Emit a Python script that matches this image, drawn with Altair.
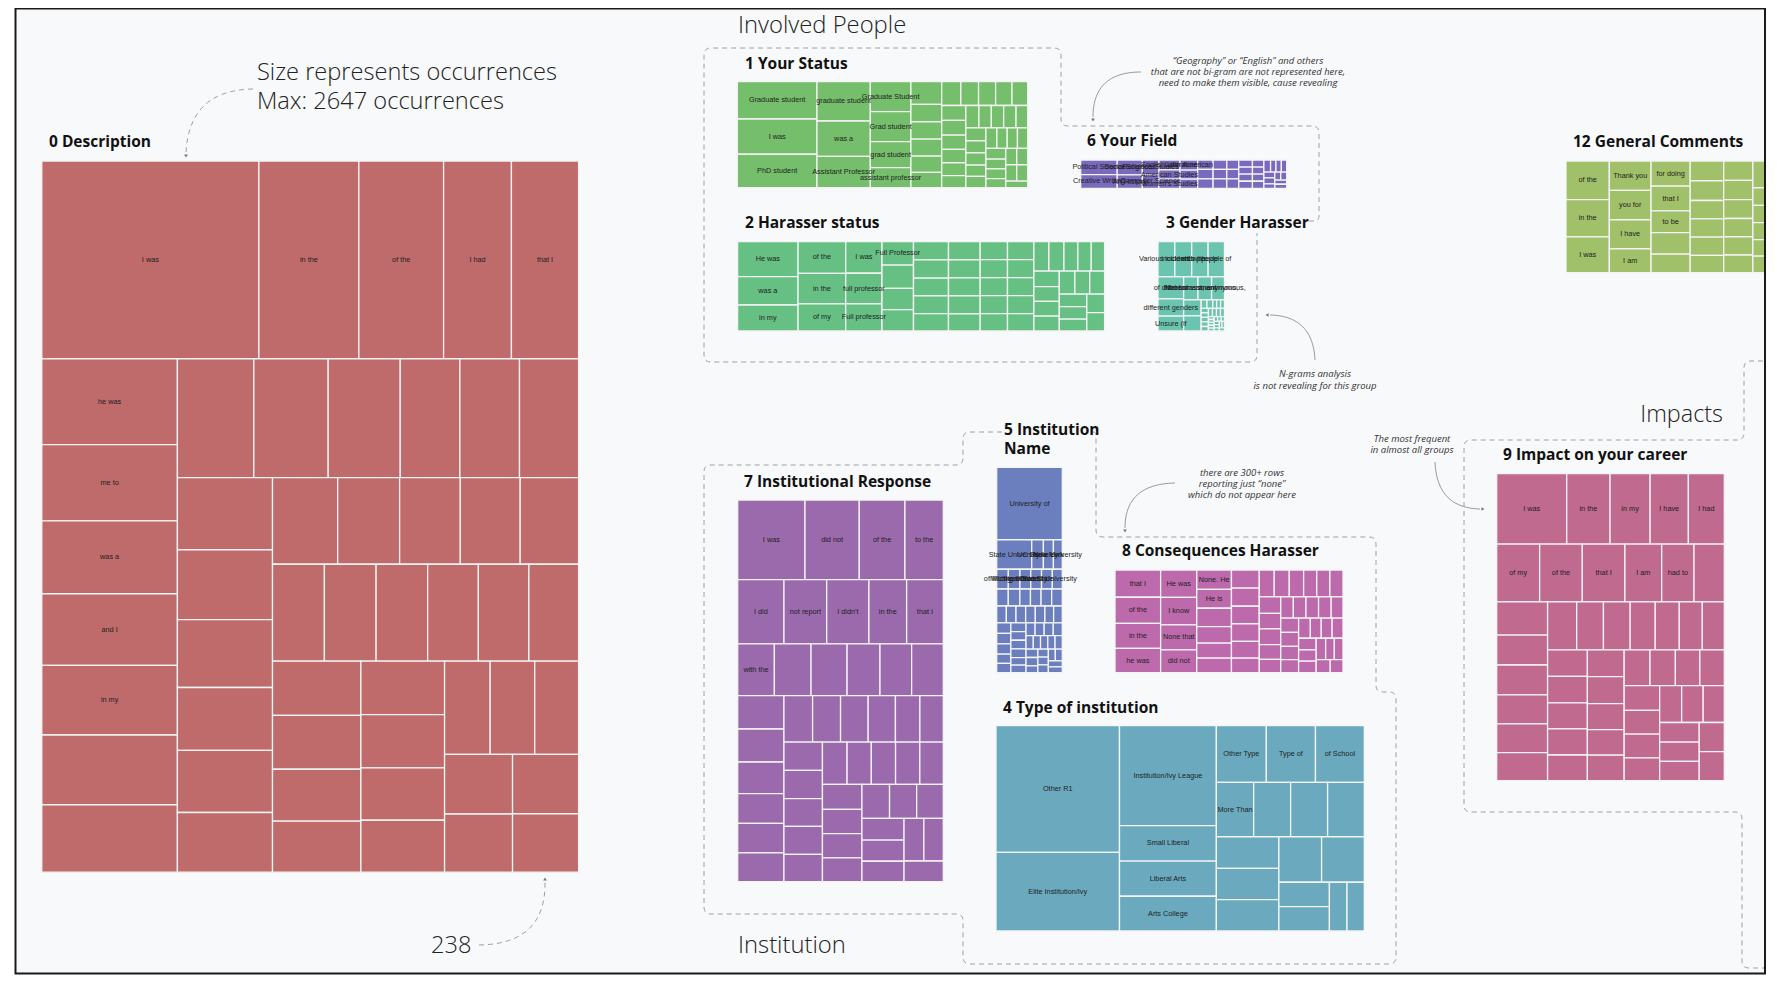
import math
import altair as alt
import pandas as pd

# ---------------- data: bi-gram occurrences per survey question ----------------
desc_values = [2647, 1219, 1033, 827, 819,
               718, 637, 610, 598, 583, 583, 564,
               560, 545, 528, 437, 437, 433,
               423, 410, 398, 369, 364, 350,
               348, 331, 324, 320, 312,
               310, 309, 308, 303, 302, 297,
               296, 293, 283, 278,
               276, 275, 270, 268,
               262, 256, 252,
               250, 244,
               242, 238]
desc_labels = ["I was", "in the", "of the", "I had", "that I", "he was", "me to", "was a", "and I", "in my"]

status_values = [183, 173, 164, 129, 116, 103, 75, 75, 65, 50,
                 43, 33, 33, 32, 31, 29, 28, 26, 25, 24, 23,
                 22, 22, 21, 20, 19, 18, 18, 17, 17, 17, 16,
                 16, 15, 15, 14, 14, 14, 13, 13, 13, 13, 12, 12, 11,
                 11, 11, 11, 11, 9]
status_labels = ["Graduate student", "I was", "PhD student", "graduate student", "was a",
                 "Assistant Professor", "Graduate Student", "Grad student", "grad student",
                 "assistant professor"]

field_values = [33, 31, 23, 21, 15, 14, 13, 12, 12, 11, 10, 10, 9, 9, 9, 8, 8, 8, 7, 7,
                7, 6, 6, 6, 6, 5, 5, 5, 5, 5, 4, 4, 4, 4, 4, 3, 3, 3, 3, 3]
field_labels = ["Political Science", "Creative Writing", "Social Sciences", "Art History",
                "Religious Studies", "Computer Science", "English Literature", "American Studies",
                "Women's Studies", "Latin American"]

harasser_values = [129, 105, 96, 92, 89, 79, 70, 68, 60,
                   45, 45, 41, 41, 39, 39, 38, 38, 37, 35, 35, 35, 35, 33,
                   30, 30, 30, 30, 29, 29, 29, 29, 29, 28,
                   27, 27, 25, 24, 24, 24, 23, 23, 23, 22, 21, 21, 21, 21, 20, 20, 20]
harasser_labels = ["He was", "was a", "in my", "of the", "in the", "of my", "I was",
                   "full professor", "Full professor", "Full Professor"]

gender_values = [36, 36, 35, 35, 34, 27, 23, 20, 19, 18, 17, 16,
                 3, 3, 2, 2, 2, 2, 2, 2, 2, 2, 2, 2, 2, 2,
                 1, 1, 1, 1, 1, 1, 1, 1, 1, 1, 1, 1, 1, 1]
gender_labels = ["Various incidents", "incidents with", "with people", "people of", "of different",
                 "different genders", "Unsure (if", "Not harassment", "harassment, anonymous,",
                 "anonymous,"]

general_values = [104, 100, 96, 76, 76, 75, 62, 61, 60, 53, 52, 45,
                  41, 41, 38, 38, 38, 36, 35, 35, 34, 33, 33, 32,
                  31, 31, 30, 30, 29, 29, 28, 28, 27, 27, 26, 26, 25, 25, 24, 24,
                  23, 23, 22, 22, 21, 21, 20, 20, 19]
general_labels = ["of the", "in the", "I was", "Thank you", "you for", "I have", "I am",
                  "for doing", "that I", "to be"]

institution_values = [290, 63, 21, 18, 16, 14, 14, 13, 13, 13, 12, 12, 12, 11, 11, 11, 11,
                      10, 10, 10, 10, 10, 9, 9, 9, 9, 9, 8, 8, 8, 8, 8, 8,
                      7, 7, 7, 7, 7, 7, 6, 6, 6, 6, 6, 6, 6, 5, 5, 5, 5, 5, 5, 5, 5]
institution_labels = ["University of", "State University", "UC Berkeley", "New York",
                      "Yale University", "of Michigan", "Michigan State", "the University",
                      "Ohio State", "Harvard University"]

consequences_values = [74, 71, 68, 66, 59, 59, 54, 49, 40, 39, 38, 34, 31, 30,
                       30, 30, 29, 29, 28, 24, 24, 24, 23, 21, 21, 21, 21, 20, 20, 19, 17,
                       16, 16, 16, 16, 15, 15, 15, 14, 14, 14, 13, 13, 13, 12, 12, 12, 12,
                       11, 11, 11, 10]
consequences_labels = ["that I", "of the", "in the", "he was", "He was", "I know", "None that",
                       "did not", "None. He", "He is"]

type_values = [965, 600, 598, 212, 210, 208, 175, 172, 171, 125, 124, 124, 123,
               122, 121, 121, 120, 120, 76, 76, 53, 52]
type_labels = ["Other R1", "Elite Institution/Ivy", "Institution/Ivy League", "Small Liberal",
               "Liberal Arts", "Arts College", "Other Type", "Type of", "of School", "More Than"]

impact_values = [304, 188, 174, 166, 156, 153, 152, 152, 131, 115, 108,
                 104, 94, 94, 91, 90, 88, 86, 79, 79, 74, 71, 68, 65,
                 65, 65, 64, 64, 63, 61, 61, 59, 58, 58, 57, 56, 54, 54,
                 54, 52, 52, 50, 50, 49, 48, 48, 47, 47, 45, 45]
impact_labels = ["I was", "in the", "in my", "I have", "I had", "of my", "of the", "that I",
                 "I am", "had to"]

response_values = [330, 266, 224, 188, 183, 169, 167, 149, 145,
                   117, 117, 115, 105, 101, 101, 95, 94, 90, 85, 84, 82,
                   82, 80, 79, 78, 70, 67, 67, 67, 66, 66, 65,
                   64, 63, 63, 63, 61, 61, 59, 59, 58, 58, 57, 56, 56, 55, 53, 52, 51, 50]
response_labels = ["I was", "did not", "of the", "to the", "I did", "not report", "I didn't",
                   "in the", "that I", "with the"]

# ---------------- layout (panel boxes in page pixels, colours, strips) ----------------
PANELS = [
    # values, labels, box, colour, strip sizes
    (desc_values, desc_labels, (41.8, 161, 578.6, 872.2), "#BF6B6B", [5, 7, 6, 6, 5, 6, 4, 4, 3, 2, 1, 1]),
    (status_values, status_labels, (737.3, 81.7, 1027.7, 187.7), "#75BE6B", [3, 3, 4, 6, 5, 6, 5, 5, 4, 4, 2, 2, 1]),
    (field_values, field_labels, (1080.7, 160, 1286.7, 188.3), "#7A6ABD", [2, 2]),
    (harasser_values, harasser_labels, (737.6, 241.7, 1104.6, 331), "#67C083", [3, 3, 3, 4, 5, 5, 5, 5, 5, 4, 3, 3, 1, 1]),
    (gender_values, gender_labels, (1158, 241.7, 1224.5, 331), "#6BC4AF", [4, 3]),
    (general_values, general_labels, (1566, 161, 1844, 272.7), "#A1C06A", [3, 4, 5, 6, 6]),
    (institution_values, institution_labels, (996.7, 467.3, 1062.3, 672.7), "#6B7FBE", [1, 4]),
    (consequences_values, consequences_labels, (1115, 570, 1343, 672.7), "#BD6AAD", [4, 4, 6, 6, 6, 5, 5]),
    (type_values, type_labels, (996, 725.7, 1364.3, 931), "#6BAABE", [2, 4, 3, 4, 3, 2, 2, 2]),
    (impact_values, impact_labels, (1496.7, 473.7, 1724.3, 780.7), "#C06A8F", [5, 6, 6, 7, 5, 5, 4, 4, 3, 3, 1, 1]),
    (response_values, response_labels, (737.7, 500, 943.3, 881.7), "#9B6AAD", [4, 5, 6, 6, 6, 5, 5, 4, 3, 3, 2, 1]),
]

PHI = (1 + 5 ** 0.5) / 2


def treemap(values, box, strips=None):
    """Squarified treemap (d3 style); strip sizes may be given for the first strips."""
    x0, y0, x1, y1 = box
    n = len(values)
    total = float(sum(values))
    out = [None] * n
    i0, r = 0, 0
    while i0 < n:
        dx, dy = x1 - x0, y1 - y0
        if strips is not None and r < len(strips):
            i1 = min(n, i0 + strips[r])
            s = float(sum(values[i0:i1]))
        else:
            i1 = i0 + 1
            s = float(values[i0])
            mn = mx = s
            alpha = max(dy / dx, dx / dy) / (total * PHI)
            beta = s * s * alpha
            best = max(mx / beta, beta / mn)
            while i1 < n:
                v = values[i1]
                s2 = s + v
                mn2, mx2 = min(mn, v), max(mx, v)
                beta = s2 * s2 * alpha
                ratio = max(mx2 / beta, beta / mn2)
                if ratio > best:
                    break
                s, mn, mx, best = s2, mn2, mx2, ratio
                i1 += 1
        frac = s / total if total > 0 else 1.0
        if dx < dy:
            ny = y0 + dy * frac
            cx = x0
            for j in range(i0, i1):
                w = dx * values[j] / s
                out[j] = (cx, y0, cx + w, ny)
                cx += w
            y0 = ny
        else:
            nx = x0 + dx * frac
            cy = y0
            for j in range(i0, i1):
                h = dy * values[j] / s
                out[j] = (x0, cy, nx, cy + h)
                cy += h
            x0 = nx
        total -= s
        i0 = i1
        r += 1
    return out


cells, labels = [], []
for pid, (vals, labs, box, col, strips) in enumerate(PANELS):
    rects = treemap(vals, box, strips)
    for k, (a, b, c, d) in enumerate(rects):
        cells.append({"x": a, "x2": c, "y": b, "y2": d, "panel": pid, "color": col, "n": vals[k]})
        if k < len(labs):
            labels.append({"x": (a + c) / 2, "y": (b + d) / 2, "text": labs[k]})
cells_df = pd.DataFrame(cells)
labels_df = pd.DataFrame(labels)

XS = alt.Scale(domain=[8, 1769], nice=False, zero=False)
YS = alt.Scale(domain=[8, 981], nice=False, zero=False, reverse=True)


def X(f="x"):
    return alt.X(f"{f}:Q", scale=XS, axis=None)


def Y(f="y"):
    return alt.Y(f"{f}:Q", scale=YS, axis=None)


# ---------------- decorations: dashed group outlines, arrows ----------------
def rounded(pts, r=7, steps=6):
    out = [pts[0]]
    for i in range(1, len(pts) - 1):
        (xa, ya), (xb, yb), (xc, yc) = pts[i - 1], pts[i], pts[i + 1]
        d1 = math.hypot(xb - xa, yb - ya)
        d2 = math.hypot(xc - xb, yc - yb)
        rr = min(r, d1 / 2, d2 / 2)
        ax, ay = xb + (xa - xb) * rr / d1, yb + (ya - yb) * rr / d1
        bx, by = xb + (xc - xb) * rr / d2, yb + (yc - yb) * rr / d2
        for k in range(steps + 1):
            t = k / steps
            out.append(((1 - t) ** 2 * ax + 2 * (1 - t) * t * xb + t * t * bx,
                        (1 - t) ** 2 * ay + 2 * (1 - t) * t * yb + t * t * by))
    out.append(pts[-1])
    return out


def curve(p0, c, p1, steps=24):
    return [((1 - t) ** 2 * p0[0] + 2 * (1 - t) * t * c[0] + t * t * p1[0],
             (1 - t) ** 2 * p0[1] + 2 * (1 - t) * t * c[1] + t * t * p1[1])
            for t in [k / steps for k in range(steps + 1)]]


outlines = [
    [(1309, 221), (1319, 221), (1319, 126), (1061, 126), (1061, 48), (704, 48), (704, 362),
     (1257, 362), (1257, 233)],
    [(1002, 432), (963, 432), (963, 465), (704, 465), (704, 914), (963, 914), (963, 964),
     (1396, 964), (1396, 692), (1376, 692), (1376, 537), (1096, 537), (1096, 432), (1090, 432)],
    [(1772, 361), (1744, 361), (1744, 440), (1464, 440), (1464, 812), (1742, 812), (1742, 968),
     (1772, 968)],
]
dashed_arrows = [
    ((253, 89), (189, 90), (186, 153)),
    ((479, 945), (546, 944), (545, 882)),
]
solid_arrows = [
    ((1141, 72), (1093, 72), (1093, 117)),
    ((1315, 360), (1313, 316), (1270, 315)),
    ((1175, 483), (1125, 484), (1125, 528)),
    ((1435, 462), (1437, 508), (1480, 509)),
]

dash_rows, solid_rows = [], []
sid = 0
for pts in outlines:
    for i, (a, b) in enumerate(rounded(pts)):
        dash_rows.append({"x": a, "y": b, "seg": sid, "o": i})
    sid += 1
for p0, c, p1 in dashed_arrows:
    for i, (a, b) in enumerate(curve(p0, c, p1)):
        dash_rows.append({"x": a, "y": b, "seg": sid, "o": i})
    sid += 1
for p0, c, p1 in solid_arrows:
    for i, (a, b) in enumerate(curve(p0, c, p1)):
        solid_rows.append({"x": a, "y": b, "seg": sid, "o": i})
    sid += 1

heads = pd.DataFrame([
    {"x": 186, "y": 156, "shape": "triangle-down"},
    {"x": 545, "y": 879, "shape": "triangle-up"},
    {"x": 1093, "y": 120, "shape": "triangle-down"},
    {"x": 1267, "y": 315, "shape": "triangle-left"},
    {"x": 1125, "y": 531, "shape": "triangle-down"},
    {"x": 1483, "y": 509, "shape": "triangle-right"},
])

titles = pd.DataFrame([
    {"x": 49, "y": 147, "text": "0 Description"},
    {"x": 745, "y": 69, "text": "1 Your Status"},
    {"x": 1087, "y": 146, "text": "6 Your Field"},
    {"x": 745, "y": 228, "text": "2 Harasser status"},
    {"x": 1166, "y": 228, "text": "3 Gender Harasser"},
    {"x": 1573, "y": 147, "text": "12 General Comments"},
    {"x": 1004, "y": 435, "text": "5 Institution"},
    {"x": 1004, "y": 454, "text": "Name"},
    {"x": 744, "y": 487, "text": "7 Institutional Response"},
    {"x": 1122, "y": 556, "text": "8 Consequences Harasser"},
    {"x": 1003, "y": 713, "text": "4 Type of institution"},
    {"x": 1503, "y": 460, "text": "9 Impact on your career"},
])
big_notes = pd.DataFrame([
    {"x": 257, "y": 80, "text": "Size represents occurrences"},
    {"x": 257, "y": 109, "text": "Max: 2647 occurrences"},
    {"x": 431, "y": 953, "text": "238"},
])
sections = pd.DataFrame([
    {"x": 738, "y": 33, "text": "Involved People"},
    {"x": 738, "y": 953, "text": "Institution"},
])
big_right = pd.DataFrame([{"x": 1723, "y": 422, "text": "Impacts"}])
notes = pd.DataFrame([
    {"x": 1248, "y": 63.5, "text": "“Geography” or “English” and others"},
    {"x": 1248, "y": 74.5, "text": "that are not bi-gram are not represented here,"},
    {"x": 1248, "y": 85.5, "text": "need to make them visible, cause revealing"},
    {"x": 1315, "y": 377, "text": "N-grams analysis"},
    {"x": 1315, "y": 389, "text": "is not revealing for this group"},
    {"x": 1242, "y": 476, "text": "there are 300+ rows"},
    {"x": 1242, "y": 487, "text": "reporting just “none”"},
    {"x": 1242, "y": 498, "text": "which do not appear here"},
    {"x": 1412, "y": 442, "text": "The most frequent"},
    {"x": 1412, "y": 452.5, "text": "in almost all groups"},
])

frame = pd.DataFrame([{"x": 15.5, "x2": 1765, "y": 8.5, "y2": 973.5}])
cover = pd.DataFrame([{"x": 1766, "x2": 1790, "y": 0, "y2": 990}])

layers = [
    alt.Chart(frame).mark_rect(fill="#F8F9FB", stroke=None).encode(x=X(), x2="x2", y=Y(), y2="y2"),
    alt.Chart(cells_df).mark_rect(stroke="#F4F4F4", strokeWidth=1.3).encode(
        x=X(), x2="x2", y=Y(), y2="y2",
        color=alt.Color("color:N", scale=None),
        tooltip=["n:Q"]),
    alt.Chart(labels_df).mark_text(font="Liberation Sans", fontSize=7.3, color="#1E1E1E",
                                   align="center", baseline="middle").encode(x=X(), y=Y(), text="text:N"),
    alt.Chart(pd.DataFrame(dash_rows)).mark_line(color="#A0A0A0", strokeWidth=1, strokeDash=[5, 4]).encode(
        x=X(), y=Y(), detail="seg:N", order="o:Q"),
    alt.Chart(pd.DataFrame(solid_rows)).mark_line(color="#9A9A9A", strokeWidth=1).encode(
        x=X(), y=Y(), detail="seg:N", order="o:Q"),
    alt.Chart(heads).mark_point(filled=True, size=14, color="#777777", opacity=1).encode(
        x=X(), y=Y(), shape=alt.Shape("shape:N", scale=None)),
    alt.Chart(titles).mark_text(font="Open Sans", fontSize=15.5, fontWeight="bold", color="#111111",
                                align="left", baseline="alphabetic").encode(x=X(), y=Y(), text="text:N"),
    alt.Chart(big_notes).mark_text(font="Open Sans", fontSize=23.6, fontWeight=300, color="#222222",
                                   align="left", baseline="alphabetic").encode(x=X(), y=Y(), text="text:N"),
    alt.Chart(sections).mark_text(font="Open Sans", fontSize=23.8, fontWeight=300, color="#222222",
                                  align="left", baseline="alphabetic").encode(x=X(), y=Y(), text="text:N"),
    alt.Chart(big_right).mark_text(font="Open Sans", fontSize=23.4, fontWeight=300, color="#222222",
                                   align="right", baseline="alphabetic").encode(x=X(), y=Y(), text="text:N"),
    alt.Chart(notes).mark_text(font="Open Sans", fontSize=9.5, fontStyle="italic", color="#333333",
                               align="center", baseline="alphabetic").encode(x=X(), y=Y(), text="text:N"),
    alt.Chart(cover).mark_rect(fill="white", stroke=None).encode(x=X(), x2="x2", y=Y(), y2="y2"),
    alt.Chart(frame).mark_rect(fill=None, stroke="#1A1A1A", strokeWidth=2).encode(x=X(), x2="x2", y=Y(), y2="y2"),
]

chart = alt.layer(*layers).properties(
    width=1761, height=973, padding=0, autosize=alt.AutoSizeParams(type="none"),
    background="white",
).configure_view(stroke=None)

chart.save("out.html", embed_options={"renderer": "svg", "actions": False})
